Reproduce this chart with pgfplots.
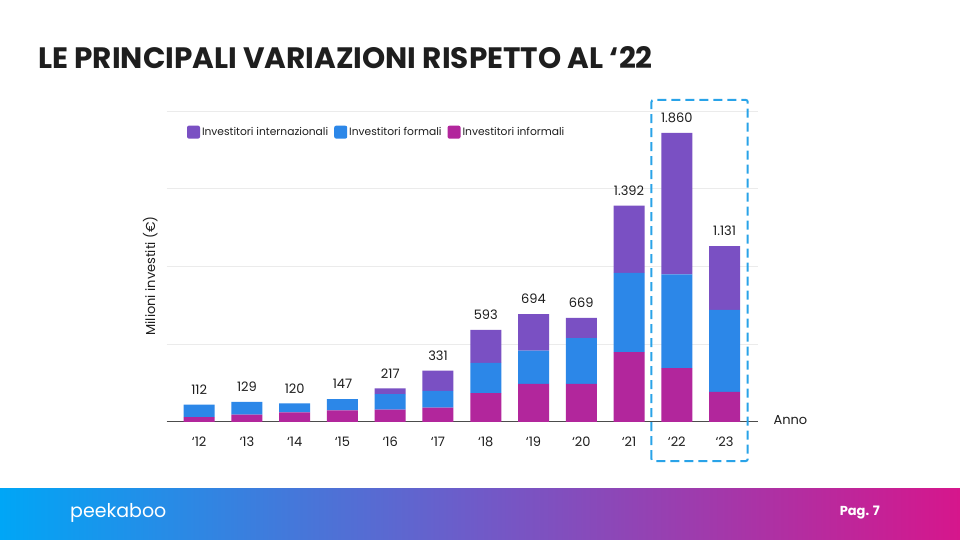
\documentclass[border=0pt]{standalone}
\usepackage{fontspec}
\setmainfont{Poppins}
\usepackage{pgfplots}
\pgfplotsset{compat=1.18}
\usepackage{pgfplotstable}
\definecolor{cPurp}{RGB}{122,80,195}
\definecolor{cBlue}{RGB}{44,135,232}
\definecolor{cMag}{RGB}{178,38,156}
\definecolor{cBox}{RGB}{41,163,232}
\definecolor{gLeft}{RGB}{0,166,246}
\definecolor{gMid}{RGB}{112,90,200}
\definecolor{gRight}{RGB}{214,22,140}
\definecolor{txt}{RGB}{30,30,30}
\pgfplotsset{sqlegend/.style={legend image code/.code={\fill[##1, rounded corners=2pt] (0pt,-6.5pt) rectangle (13pt,6.5pt);}}}

\pgfplotstableread{
x mag blu pur tot lab
0 32 80 0 112 112
1 47 82 0 129 129
2 62 58 0 120 120
3 75 72 0 147 147
4 80 100 37 217 217
5 92 108 131 331 331
6 186 194 213 593 593
7 245 214 235 694 694
8 245 294 130 669 669
9 450 509 433 1392 1.392
10 346 604 910 1860 1.860
11 193 528 410 1131 1.131
}\datatable

\pgfplotsset{frame/.style={
  at={(166.7pt,118pt)}, anchor=south west,
  scale only axis, width=591.3pt, height=311pt,
  xmin=-0.68, xmax=11.7, ymin=0, ymax=2000,
  clip=false}}

\begin{document}
\begin{tikzpicture}[x=1pt,y=1pt]
\useasboundingbox (0,0) rectangle (960,540);
\fill[white] (0,0) rectangle (960,540);
\shade[left color=gLeft, right color=gRight, middle color=gMid] (0,0) rectangle (960,51);
\node[anchor=west, white, inner sep=0pt, font=\fontsize{19}{19}\selectfont] at (70,27) {peekaboo};
\node[anchor=east, white, inner sep=0pt, font=\bfseries\fontsize{13}{13}\selectfont] at (880,27) {Pag. 7};
\node[anchor=base west, inner sep=0pt, text=txt, font=\bfseries\fontsize{29.5}{29.5}\selectfont] at (38,471) {LE PRINCIPALI VARIAZIONI RISPETTO AL ‘22};

\begin{axis}[
  frame,
  ybar stacked, bar width=31pt,
  axis x line*=bottom, axis y line*=left,
  y axis line style={draw=none},
  x axis line style={draw=black!70, line width=1pt, -},
  ytick={500,1000,1500,2000}, yticklabels={},
  major tick length=0pt,
  ymajorgrids, grid style={draw=black!8, line width=0.8pt},
  xtick={0,...,11},
  xticklabels={‘12,‘13,‘14,‘15,‘16,‘17,‘18,‘19,‘20,‘21,‘22,‘23},
  xticklabel style={anchor=center, yshift=-20pt, font=\fontsize{13}{13}\selectfont, text=txt},
  ylabel={Milioni investiti (€)},
  ylabel style={at={(axis description cs:-0.028,0.47)}, anchor=center, font=\fontsize{13}{13}\selectfont, text=txt},
  xlabel={Anno},
  xlabel style={at={(axis description cs:1,0)}, anchor=west, xshift=12pt, yshift=2pt, font=\fontsize{13}{13}\selectfont, text=txt},
  legend style={at={(0.034,0.932)}, anchor=west, draw=none, fill=none, inner sep=0pt,
    font=\fontsize{10.7}{10.7}\selectfont, text=txt,
    /tikz/every even column/.append style={column sep=4pt}},
  legend columns=3,
]
\addlegendimage{sqlegend, fill=cPurp, draw=none}
\addlegendentry{Investitori internazionali}
\addlegendimage{sqlegend, fill=cBlue, draw=none}
\addlegendentry{Investitori formali}
\addlegendimage{sqlegend, fill=cMag, draw=none}
\addlegendentry{Investitori informali}

\addplot[fill=cMag, draw=none, forget plot] table[x=x,y=mag]{\datatable};
\addplot[fill=cBlue, draw=none, forget plot] table[x=x,y=blu]{\datatable};
\addplot[fill=cPurp, draw=none, forget plot] table[x=x,y=pur]{\datatable};

\draw[cBox, line width=2pt, dash pattern=on 9pt off 5pt, rounded corners=2pt]
  (axis cs:9.47,-251) rectangle (axis cs:11.485,2071);
\end{axis}

\begin{axis}[frame, hide axis]
\addplot[draw=none, mark=none, only marks,
  nodes near coords, point meta=explicit symbolic,
  every node near coord/.append style={anchor=south, inner sep=0pt, yshift=10pt, text=txt, font=\fontsize{13}{13}\selectfont}]
  table[x=x,y=tot,meta=lab]{\datatable};
\end{axis}
\end{tikzpicture}
\end{document}
